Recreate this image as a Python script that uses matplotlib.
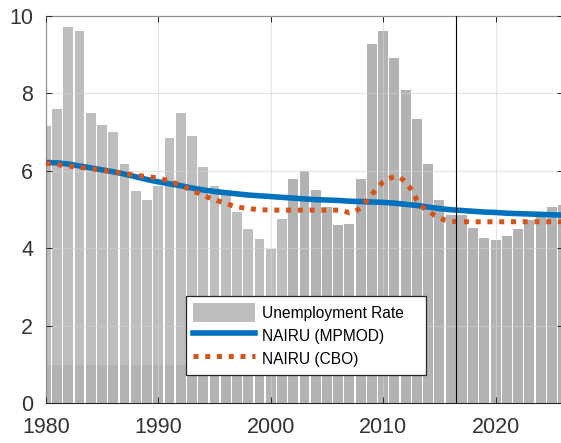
import matplotlib
matplotlib.use("Agg")
import matplotlib.pyplot as plt
import matplotlib.patches as mpatches

plt.rcParams['font.family'] = ['Liberation Sans', 'DejaVu Sans']

# unemployment rate, annual (history to 2016, projection after)
years = list(range(1980, 2027))
unemp = [7.17, 7.61, 9.71, 9.60, 7.49, 7.19, 7.00, 6.17, 5.49, 5.26,
         5.61, 6.84, 7.49, 6.91, 6.10, 5.60, 5.40, 4.95, 4.50, 4.24,
         3.99, 4.75, 5.79, 5.99, 5.52, 5.08, 4.61, 4.62, 5.79, 9.27,
         9.60, 8.92, 8.08, 7.35, 6.17, 5.26, 4.87, 4.87, 4.54, 4.28,
         4.21, 4.33, 4.51, 4.73, 4.88, 5.07, 5.12]

# NAIRU from MPMOD
nairu_mp = [6.22, 6.21, 6.18, 6.13, 6.08, 6.03, 5.98, 5.92, 5.85, 5.78,
            5.72, 5.67, 5.62, 5.56, 5.51, 5.47, 5.44, 5.41, 5.38, 5.36,
            5.34, 5.32, 5.30, 5.28, 5.26, 5.25, 5.24, 5.22, 5.21, 5.20,
            5.19, 5.17, 5.14, 5.11, 5.07, 5.03, 5.00, 4.98, 4.96, 4.94,
            4.93, 4.91, 4.90, 4.89, 4.88, 4.87, 4.86]

# NAIRU from CBO
cbo_x = [1980, 1982, 1984, 1986, 1988, 1990, 1991, 1992, 1993, 1994,
         1995, 1996, 1997, 1998, 1999, 2000, 2002, 2004, 2006, 2006.5,
         2007, 2007.5, 2008, 2008.5, 2009, 2009.5, 2010, 2010.5, 2011, 2011.5,
         2012, 2012.5, 2013, 2013.5, 2014, 2014.5, 2015, 2015.5, 2016, 2017,
         2020, 2023, 2026]
cbo_y = [6.20, 6.13, 6.06, 5.98, 5.89, 5.82, 5.74, 5.63, 5.50, 5.37,
         5.26, 5.16, 5.07, 5.03, 5.00, 4.99, 4.99, 4.99, 4.99, 4.97,
         4.92, 4.95, 5.05, 5.22, 5.40, 5.57, 5.72, 5.81, 5.85, 5.83,
         5.72, 5.52, 5.25, 5.07, 4.96, 4.87, 4.79, 4.73, 4.70, 4.69,
         4.69, 4.69, 4.69]

forecast_start = 2016.5
xticks = [1980, 1990, 2000, 2010, 2020]
yticks = [0, 2, 4, 6, 8, 10]

dark = '#262626'
fig = plt.figure(figsize=(5.61, 4.43), dpi=100)
ax = fig.add_axes([0.0816, 0.0892, 0.9222, 0.8747])

bars = ax.bar(years, unemp, width=0.88, color='#b3b3b3', linewidth=0, zorder=1,
              label='Unemployment Rate')
# faint white wash over the upper left part of the chart
ax.add_patch(mpatches.Rectangle((1980, 1), 21.5, 9, facecolor='white', alpha=0.15,
                                linewidth=0, zorder=1.5))

l1, = ax.plot(years, nairu_mp, color='#0072BD', lw=4.0, zorder=3,
              label='NAIRU (MPMOD)')
l2, = ax.plot(cbo_x, cbo_y, color='#D95319', lw=3.6, zorder=4,
              dashes=(1, 1.35), dash_capstyle='butt', label='NAIRU (CBO)')
ax.axvline(forecast_start, color='black', lw=0.8, zorder=5)

ax.set_xlim(1980, 2026)
ax.set_ylim(0, 10)
ax.set_xticks(xticks)
ax.set_yticks(yticks)
ax.set_axisbelow(False)
ax.grid(True, color='#d4d4d4', alpha=0.6, lw=0.8)
ax.tick_params(direction='in', top=True, right=True, length=4, width=0.7,
               color=dark, labelcolor='#333333', labelsize=15.5)
ax.tick_params(axis='x', pad=10)
ax.tick_params(axis='y', pad=9)
for s in ax.spines.values():
    s.set_color(dark)
    s.set_linewidth(0.8)

leg = ax.legend(handles=[bars, l1, l2], loc='lower left',
                bbox_to_anchor=(0.2704, 0.0735), borderaxespad=0,
                fancybox=False, framealpha=1, edgecolor=dark, fontsize=11.2,
                handlelength=4.0, handleheight=1.5, handletextpad=0.45,
                labelspacing=0.25, borderpad=0.45)
leg.get_frame().set_linewidth(0.9)
leg.legend_handles[0].set_facecolor('#bebebe')
leg.set_zorder(6)
# MATLAB leaves extra room on the right of the legend text
leg.texts[0].set_text('Unemployment Rate\u2003')

fig.savefig('out.png', dpi=100)
